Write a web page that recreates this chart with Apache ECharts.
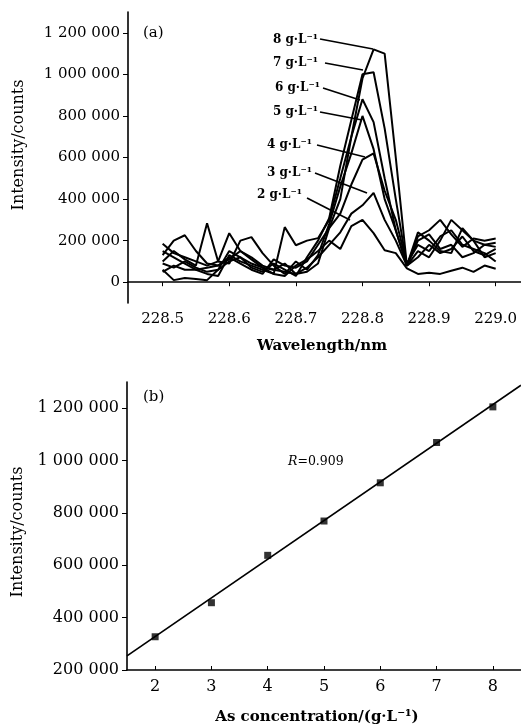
<!DOCTYPE html>
<html><head><meta charset="utf-8">
<script src="https://cdn.jsdelivr.net/npm/echarts@6/dist/echarts.min.js"></script>
<style>html,body{margin:0;padding:0;background:#fff}#c{width:521px;height:724px}</style>
</head><body><div id="c"></div>
<script>
// ---- Data (a): spectra ----
const wavelengths = [228.5, 228.5167, 228.5333, 228.55, 228.5667, 228.5833, 228.6, 228.6167, 228.6333, 228.65,
  228.6667, 228.6833, 228.7, 228.7167, 228.7333, 228.75, 228.7667, 228.7833, 228.8, 228.8167,
  228.8333, 228.85, 228.8667, 228.8833, 228.9, 228.9167, 228.9333, 228.95, 228.9667, 228.9833, 229.0];
const conc2 = [60000, 10000, 20000, 15000, 10000, 60000, 100000, 120000, 90000, 70000, 40000, 30000, 80000, 110000, 150000, 200000, 160000, 270000, 300000, 236000, 154000, 140000, 67000, 40000, 45000, 40000, 55000, 70000, 50000, 80000, 65000];
const conc3 = [130000, 200000, 226000, 150000, 90000, 80000, 110000, 150000, 120000, 80000, 60000, 50000, 40000, 70000, 120000, 180000, 240000, 330000, 370000, 430000, 300000, 200000, 80000, 120000, 180000, 140000, 160000, 220000, 150000, 130000, 160000];
const conc4 = [185000, 140000, 120000, 100000, 80000, 100000, 236000, 150000, 110000, 70000, 60000, 90000, 40000, 50000, 90000, 260000, 330000, 470000, 590000, 620000, 440000, 300000, 90000, 180000, 150000, 220000, 250000, 180000, 160000, 140000, 100000];
const conc5 = [100000, 150000, 110000, 80000, 284000, 100000, 90000, 200000, 217000, 140000, 80000, 40000, 100000, 60000, 130000, 280000, 460000, 620000, 800000, 640000, 400000, 250000, 80000, 200000, 230000, 160000, 180000, 120000, 140000, 180000, 170000];
const conc6 = [150000, 120000, 90000, 60000, 40000, 30000, 130000, 100000, 80000, 60000, 40000, 265000, 178000, 200000, 212000, 300000, 500000, 700000, 880000, 770000, 500000, 250000, 80000, 150000, 120000, 200000, 300000, 250000, 200000, 180000, 190000];
const conc7 = [90000, 70000, 100000, 70000, 50000, 60000, 150000, 120000, 70000, 50000, 90000, 60000, 30000, 120000, 200000, 308000, 560000, 780000, 1000000, 1010000, 740000, 400000, 80000, 240000, 200000, 150000, 140000, 260000, 200000, 120000, 140000];
const conc8 = [50000, 80000, 60000, 60000, 70000, 80000, 120000, 90000, 60000, 40000, 110000, 80000, 70000, 100000, 180000, 260000, 400000, 700000, 980000, 1120000, 1100000, 600000, 80000, 220000, 250000, 300000, 230000, 170000, 210000, 200000, 210000];
const spectra = [conc2, conc3, conc4, conc5, conc6, conc7, conc8];
const spectraLabels = ['2 g·L⁻¹', '3 g·L⁻¹', '4 g·L⁻¹', '5 g·L⁻¹', '6 g·L⁻¹', '7 g·L⁻¹', '8 g·L⁻¹'];
const xTicksA = [228.5, 228.6, 228.7, 228.8, 228.9, 229.0];
const yTicksA = [0, 200000, 400000, 600000, 800000, 1000000, 1200000];

// ---- Data (b): calibration ----
const concentrations = [2, 3, 4, 5, 6, 7, 8];
const intensities = [327000, 457000, 638000, 769000, 915000, 1069000, 1205000];
const fitX = [1.5, 8.5];
const fitY = [254000, 1288000];
const xTicksB = [2, 3, 4, 5, 6, 7, 8];
const yTicksB = [200000, 400000, 600000, 800000, 1000000, 1200000];

const fmt = v => String(Math.round(v)).replace(/\B(?=(\d{3})+(?!\d))/g, ' ');
const SERIF = '"DejaVu Serif", serif';
const ink = '#000';

const chart = echarts.init(document.getElementById('c'), null, {renderer: 'canvas'});

const axisCommon = {
  axisLine: {show: true, lineStyle: {color: ink, width: 1.6}},
  splitLine: {show: false},
};

const option = {
  animation: false,
  backgroundColor: '#fff',
  grid: [
    {left: 128, top: 12, width: 393, height: 291},
    {left: 127, top: 382, width: 394, height: 288}
  ],
  xAxis: [
    Object.assign({}, axisCommon, {
      type: 'value', gridIndex: 0, min: 228.448, max: 229.038,
      axisTick: {show: true, length: 4, customValues: xTicksA, lineStyle: {color: ink}},
      axisLabel: {customValues: xTicksA, margin: 9, fontFamily: SERIF, fontSize: 15, color: ink,
        formatter: v => v.toFixed(1)}
    }),
    Object.assign({}, axisCommon, {
      type: 'value', gridIndex: 1, min: 1.5, max: 8.5,
      axisTick: {show: true, inside: true, length: 4, customValues: xTicksB, lineStyle: {color: ink}},
      axisLabel: {customValues: xTicksB, margin: 9, fontFamily: SERIF, fontSize: 16, color: ink}
    })
  ],
  yAxis: [
    Object.assign({}, axisCommon, {
      type: 'value', gridIndex: 0, min: -100000, max: 1300000,
      axisTick: {show: true, length: 5, customValues: yTicksA, lineStyle: {color: ink}},
      axisLabel: {customValues: yTicksA, margin: 8, fontFamily: SERIF, fontSize: 15, color: ink, formatter: fmt}
    }),
    Object.assign({}, axisCommon, {
      type: 'value', gridIndex: 1, min: 200000, max: 1300000,
      axisTick: {show: true, length: 5, customValues: yTicksB, lineStyle: {color: ink}},
      axisLabel: {customValues: yTicksB, margin: 8, fontFamily: SERIF, fontSize: 16, color: ink, formatter: fmt}
    })
  ],
  series: [].concat(
    spectra.map((s, k) => ({
      name: spectraLabels[k], type: 'line', xAxisIndex: 0, yAxisIndex: 0,
      showSymbol: false, symbol: 'none', silent: true,
      lineStyle: {color: ink, width: 2},
      data: wavelengths.map((w, i) => [w, s[i]])
    })),
    [{
      type: 'line', xAxisIndex: 1, yAxisIndex: 1, showSymbol: false, symbol: 'none',
      lineStyle: {color: ink, width: 1.7},
      data: fitX.map((x, i) => [x, fitY[i]])
    }, {
      type: 'scatter', xAxisIndex: 1, yAxisIndex: 1, symbol: 'rect', symbolSize: 7,
      itemStyle: {color: ink},
      data: concentrations.map((c, i) => [c, intensities[i]])
    }]
  ),
  graphic: []
};

// annotation graphics (labels, leader lines, axis titles)
const g = [];
const txt = (text, x, y, font, align, opts) => Object.assign({
  type: 'text', x: x, y: y,
  style: {text: text, x: 0, y: 0, font: font, fill: ink, textAlign: align || 'center', textVerticalAlign: 'middle'}
}, opts || {});
g.push(txt('(a)', 143, 33, '15px ' + SERIF, 'left'));
g.push(txt('(b)', 143, 397, '15px ' + SERIF, 'left'));
g.push(txt('Intensity/counts', 19, 145, '16px ' + SERIF, 'center', {rotation: Math.PI / 2}));
g.push(txt('Intensity/counts', 18, 532, '16px ' + SERIF, 'center', {rotation: Math.PI / 2}));
g.push(txt('Wavelength/nm', 322, 346, 'bold 15px ' + SERIF, 'center'));
g.push(txt('As concentration/(g·L⁻¹)', 317, 717, 'bold 15px ' + SERIF, 'center'));
g.push({
  type: 'text', x: 288, y: 462,
  style: {
    text: '{i|R}{n|=0.909}', x: 0, y: 0, textVerticalAlign: 'middle', textAlign: 'left',
    rich: {i: {fontFamily: SERIF, fontStyle: 'italic', fontSize: 12.5, fill: ink},
           n: {fontFamily: SERIF, fontSize: 12.5, fill: ink}}
  }
});
const leaders = [
  // [label index, text right x, text y, line x1, y1, x2, y2]
  [6, 318, 40, 320, 39, 373, 49],
  [5, 318, 63, 325, 63, 363, 70],
  [4, 320, 88, 323, 88, 360, 100],
  [3, 318, 112, 320, 112, 362, 120],
  [2, 312, 145, 317, 145, 365, 157],
  [1, 312, 173, 315, 173, 367, 193],
  [0, 302, 195, 307, 198, 350, 220]
];
leaders.forEach(L => {
  g.push(txt(spectraLabels[L[0]], L[1], L[2], 'bold 12px ' + SERIF, 'right'));
  g.push({type: 'line', shape: {x1: L[3], y1: L[4], x2: L[5], y2: L[6]}, style: {stroke: ink, lineWidth: 1.7}});
});
option.graphic = g;

chart.setOption(option);
</script>
</body></html>
